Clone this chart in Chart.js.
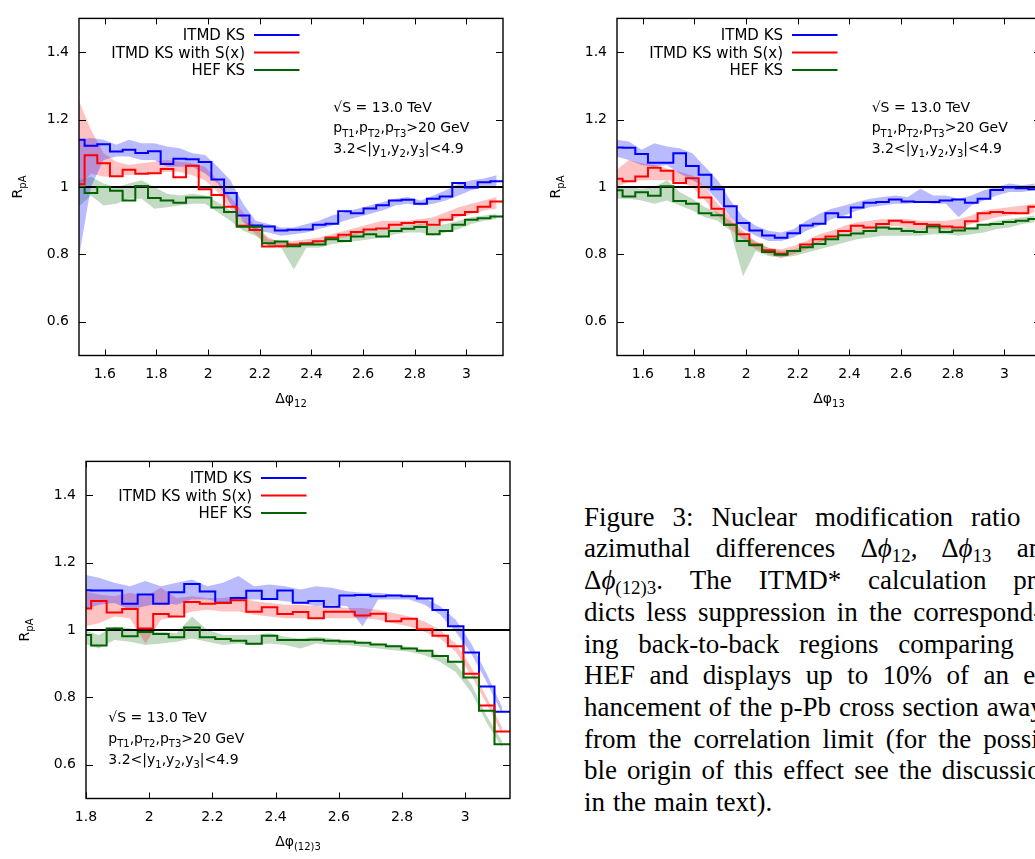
<!DOCTYPE html>
<html>
<head>
<meta charset="utf-8">
<script src="https://cdn.jsdelivr.net/npm/chart.js@4.4.1/dist/chart.umd.min.js"></script>
<style>
  html, body { margin: 0; padding: 0; background: #fff; }
  body { width: 1035px; height: 859px; overflow: hidden; position: relative; }
  canvas { position: absolute; }
  #caption {
    position: absolute; left: 584px; top: 501.7px;
    font-family: "Liberation Serif", serif; font-size: 27px; line-height: 31.7px;
    color: #000; white-space: nowrap;
  }
  #caption sub { font-size: 0.7em; vertical-align: -0.28em; line-height: 0; }
</style>
</head>
<body>
<canvas id="chart12" width="520" height="415" style="left:0px;top:0px"></canvas>
<canvas id="chart13" width="520" height="415" style="left:538px;top:0px"></canvas>
<canvas id="chart123" width="520" height="415" style="left:7px;top:443px"></canvas>
<div id="caption"></div>
<script>
// ===== data (bins of width pi/64) =====
const BIN = Math.PI / 64;
const FIRST_BIN_12 = 30;   // panels dphi12 / dphi13 start at bin 30
const FIRST_BIN_3 = 36;    // panel dphi(12)3 starts at bin 36

const xTicks12 = [1.6, 1.8, 2, 2.2, 2.4, 2.6, 2.8, 3];
const xTicks3 = [1.8, 2, 2.2, 2.4, 2.6, 2.8, 3];
const yTicks = [0.6, 0.8, 1, 1.2, 1.4];

const legendLabels = ['ITMD KS', 'ITMD KS with S(x)', 'HEF KS'];

// --- dphi12 ---
const itmd12 = [1.14,1.122,1.127,1.105,1.11,1.101,1.106,1.068,1.084,1.082,1.074,1.022,0.982,0.915,0.886,0.883,0.871,0.873,0.874,0.888,0.891,0.928,0.922,0.936,0.946,0.96,0.962,0.95,0.965,0.972,1.012,0.998,1.014,1.017];
const itmd12Hi = [1.14,1.145,1.14,1.125,1.14,1.13,1.13,1.12,1.115,1.1,1.095,1.06,1.02,0.95,0.9,0.89,0.88,0.88,0.89,0.9,0.915,0.925,0.935,0.945,0.955,0.965,0.97,0.96,0.975,0.99,1.01,1.02,1.025,1.035];
const itmd12Lo = [0.78,1.0,1.08,1.09,1.09,1.08,1.08,1.06,1.06,1.06,1.04,1.01,0.95,0.9,0.87,0.865,0.855,0.86,0.865,0.875,0.885,0.9,0.91,0.92,0.93,0.945,0.95,0.945,0.95,0.96,0.975,0.99,1.0,1.0];
const sx12 = [1.008,1.094,1.07,1.032,1.051,1.039,1.041,1.053,1.029,1.063,0.993,0.976,0.941,0.885,0.872,0.823,0.824,0.829,0.833,0.839,0.85,0.858,0.866,0.874,0.877,0.888,0.893,0.896,0.888,0.903,0.917,0.926,0.941,0.957];
const sx12Hi = [1.26,1.17,1.1,1.075,1.065,1.07,1.075,1.08,1.075,1.07,1.06,1.02,0.97,0.925,0.885,0.85,0.835,0.84,0.845,0.85,0.86,0.87,0.88,0.89,0.9,0.9,0.9,0.905,0.91,0.925,0.94,0.95,0.96,0.97];
const sx12Lo = [1.0,1.04,1.03,1.035,1.035,1.04,1.04,1.045,1.045,1.035,1.02,0.985,0.935,0.895,0.86,0.825,0.82,0.825,0.83,0.835,0.845,0.85,0.86,0.87,0.875,0.88,0.885,0.885,0.89,0.9,0.91,0.92,0.93,0.935];
const hef12 = [1.0,0.982,1.0,0.989,0.96,1.003,0.967,0.96,0.953,0.969,0.969,0.939,0.926,0.882,0.882,0.833,0.838,0.824,0.829,0.829,0.845,0.84,0.853,0.86,0.853,0.869,0.876,0.881,0.86,0.869,0.888,0.903,0.907,0.912];
const hef12Hi = [1.02,1.03,1.01,1.0,1.01,1.02,1.0,0.98,0.975,0.98,0.975,0.955,0.93,0.9,0.88,0.845,0.84,0.83,0.835,0.84,0.85,0.855,0.865,0.87,0.875,0.88,0.885,0.89,0.885,0.89,0.9,0.91,0.915,0.92];
const hef12Lo = [0.94,0.975,0.945,0.95,0.965,0.965,0.935,0.94,0.945,0.95,0.95,0.925,0.9,0.87,0.855,0.825,0.82,0.755,0.82,0.82,0.83,0.835,0.84,0.845,0.85,0.86,0.865,0.865,0.855,0.865,0.875,0.89,0.9,0.905];

// --- dphi13 ---
const itmd13 = [1.117,1.116,1.098,1.072,1.072,1.1,1.062,1.036,0.993,0.943,0.893,0.871,0.856,0.849,0.863,0.886,0.891,0.922,0.91,0.939,0.953,0.955,0.963,0.957,0.955,0.955,0.96,0.963,0.953,0.965,0.991,0.998,0.996,0.993];
const itmd13Hi = [1.14,1.135,1.11,1.13,1.12,1.115,1.1,1.06,1.02,0.96,0.91,0.885,0.87,0.865,0.875,0.9,0.92,0.935,0.945,0.955,0.965,0.97,0.975,0.97,0.995,0.975,0.975,0.965,0.975,0.99,1.0,1.01,1.005,1.01];
const itmd13Lo = [1.09,1.08,1.065,1.06,1.065,1.04,1.02,1.0,0.96,0.91,0.875,0.855,0.84,0.84,0.85,0.87,0.885,0.905,0.915,0.93,0.94,0.945,0.95,0.95,0.955,0.95,0.95,0.91,0.945,0.96,0.975,0.985,0.985,0.99];
const sx13 = [1.024,1.017,1.031,1.057,1.048,1.012,1.026,0.969,0.935,0.888,0.86,0.829,0.812,0.802,0.81,0.829,0.845,0.853,0.869,0.885,0.88,0.89,0.9,0.895,0.89,0.888,0.883,0.88,0.898,0.922,0.926,0.923,0.922,0.941];
const sx13Hi = [1.05,1.08,1.07,1.065,1.055,1.045,1.035,1.0,0.95,0.91,0.87,0.835,0.82,0.815,0.825,0.84,0.86,0.87,0.885,0.895,0.9,0.905,0.905,0.905,0.9,0.9,0.9,0.905,0.915,0.93,0.935,0.94,0.945,0.95];
const sx13Lo = [1.0,1.015,1.02,1.02,1.02,1.015,1.0,0.96,0.915,0.875,0.845,0.815,0.8,0.79,0.8,0.815,0.835,0.85,0.86,0.87,0.875,0.88,0.885,0.88,0.875,0.875,0.875,0.88,0.89,0.9,0.91,0.915,0.92,0.925];
const hef13 = [0.99,0.972,0.984,0.974,1.002,0.958,0.95,0.922,0.916,0.888,0.84,0.827,0.807,0.799,0.81,0.821,0.831,0.845,0.857,0.862,0.869,0.88,0.876,0.869,0.866,0.883,0.866,0.871,0.877,0.888,0.89,0.896,0.9,0.905];
const hef13Hi = [1.0,1.0,0.995,1.0,1.02,0.985,0.965,0.94,0.925,0.9,0.86,0.84,0.82,0.81,0.815,0.825,0.84,0.85,0.86,0.87,0.875,0.88,0.88,0.88,0.875,0.88,0.88,0.88,0.88,0.89,0.9,0.905,0.91,0.915];
const hef13Lo = [0.965,0.965,0.96,0.95,0.96,0.945,0.93,0.91,0.9,0.87,0.735,0.81,0.795,0.79,0.795,0.805,0.815,0.825,0.835,0.845,0.85,0.855,0.855,0.855,0.855,0.86,0.86,0.855,0.86,0.865,0.875,0.88,0.89,0.895];

// --- dphi(12)3 ---
const itmd3 = [1.118,1.117,1.117,1.078,1.105,1.078,1.112,1.136,1.114,1.081,1.095,1.116,1.092,1.117,1.081,1.086,1.069,1.102,1.104,1.1,1.102,1.1,1.093,1.059,1.011,0.933,0.832,0.757];
const itmd3Hi = [1.165,1.155,1.14,1.13,1.145,1.13,1.14,1.15,1.13,1.14,1.16,1.13,1.135,1.13,1.12,1.13,1.125,1.115,1.11,1.11,1.105,1.105,1.095,1.07,1.03,0.96,0.87,0.77];
const itmd3Lo = [1.06,1.075,1.08,1.06,1.07,1.08,1.075,1.09,1.09,1.08,1.09,1.09,1.09,1.085,1.08,1.07,1.075,1.07,1.01,1.09,1.09,1.09,1.075,1.045,0.995,0.93,0.845,0.75];
const sx3 = [1.064,1.086,1.052,1.062,1.004,1.047,1.04,1.083,1.078,1.08,1.088,1.054,1.067,1.047,1.053,1.035,1.054,1.054,1.043,1.048,1.026,1.033,1.002,0.983,0.952,0.87,0.776,0.699];
const sx3Hi = [1.115,1.105,1.1,1.11,1.1,1.125,1.095,1.1,1.095,1.095,1.1,1.085,1.08,1.075,1.075,1.07,1.07,1.065,1.065,1.06,1.05,1.04,1.025,1.0,0.96,0.89,0.8,0.71];
const sx3Lo = [1.01,1.02,1.04,1.035,0.96,1.03,1.04,1.055,1.06,1.055,1.055,1.045,1.04,1.035,1.035,1.035,1.035,1.035,1.035,1.03,1.02,1.01,0.995,0.975,0.935,0.865,0.78,0.69];
const hef3 = [0.985,0.954,1.004,0.981,0.994,0.988,0.978,1.007,0.978,0.973,0.968,0.959,0.983,0.97,0.97,0.971,0.968,0.966,0.962,0.957,0.952,0.945,0.938,0.923,0.906,0.859,0.76,0.661];
const hef3Hi = [1.0,0.985,1.01,1.005,0.995,0.995,0.99,1.04,1.0,0.985,0.985,0.985,0.99,0.98,0.975,0.98,0.975,0.97,0.965,0.96,0.955,0.95,0.94,0.925,0.9,0.84,0.745,0.67];
const hef3Lo = [0.96,0.945,0.97,0.965,0.955,0.96,0.965,0.975,0.965,0.955,0.96,0.955,0.96,0.955,0.945,0.96,0.955,0.955,0.95,0.945,0.94,0.935,0.925,0.905,0.875,0.815,0.725,0.65];

// ===== styling =====
const COLORS = {
    itmd: '#0000ff',
    sx: '#ff0000',
    hef: '#006400',
    itmdBand: 'rgba(0, 0, 255, 0.27)',
    sxBand: 'rgba(255, 0, 0, 0.24)',
    hefBand: 'rgba(0, 100, 0, 0.24)'
};
const FONT = '"DejaVu Sans"';
Chart.defaults.font.family = FONT;
Chart.defaults.color = '#000';

const noteLines = [
    [['√S = 13.0 TeV', 0]],
    [['p', 0], ['T1', 1], [',p', 0], ['T2', 1], [',p', 0], ['T3', 1], ['>20 GeV', 0]],
    [['3.2<|y', 0], ['1', 1], [',y', 0], ['2', 1], [',y', 0], ['3', 1], ['|<4.9', 0]]
];

function binEdges(firstBin) {
    const e = [];
    for (let k = firstBin; k <= 64; k++) e.push(k * BIN);
    return e;
}

function stepPoints(edges, vals) {
    const pts = vals.map((v, i) => ({ x: edges[i], y: v }));
    pts.push({ x: edges[vals.length], y: vals[vals.length - 1] });
    return pts;
}

function bandPoints(edges, vals) {
    return vals.map((v, i) => ({ x: (edges[i] + edges[i + 1]) / 2, y: v }));
}

function drawRich(ctx, parts, x, y, size, align) {
    const big = size + 'px ' + FONT;
    const small = Math.round(size * 0.72) + 'px ' + FONT;
    let w = 0;
    parts.forEach(([t, s]) => { ctx.font = s ? small : big; w += ctx.measureText(t).width; });
    let cx = align === 'center' ? x - w / 2 : (align === 'right' ? x - w : x);
    ctx.textAlign = 'left';
    ctx.textBaseline = 'alphabetic';
    parts.forEach(([t, s]) => {
        ctx.font = s ? small : big;
        ctx.fillText(t, cx, y + (s ? size * 0.3 : 0));
        cx += ctx.measureText(t).width;
    });
}

// frame, inward mirrored ticks, legend, labels
function makeDecor(cfg) {
    return {
        id: 'decor',
        afterDatasetsDraw(chart) {
            const ctx = chart.ctx;
            const a = chart.chartArea;
            const xs = chart.scales.x, ys = chart.scales.y;
            ctx.save();
            ctx.strokeStyle = '#000';
            ctx.lineWidth = 1.4;
            ctx.strokeRect(a.left, a.top, a.right - a.left, a.bottom - a.top);
            ctx.lineWidth = 1;
            ctx.beginPath();
            xs.ticks.forEach(t => {
                const px = Math.round(xs.getPixelForValue(t.value)) + 0.5;
                ctx.moveTo(px, a.bottom); ctx.lineTo(px, a.bottom - 6);
                ctx.moveTo(px, a.top); ctx.lineTo(px, a.top + 6);
            });
            ys.ticks.forEach(t => {
                const py = Math.round(ys.getPixelForValue(t.value)) + 0.5;
                ctx.moveTo(a.left, py); ctx.lineTo(a.left + 7, py);
                ctx.moveTo(a.right, py); ctx.lineTo(a.right - 7, py);
            });
            ctx.stroke();
            ctx.restore();
        },
        afterDraw(chart) {
            const ctx = chart.ctx;
            const a = chart.chartArea;
            ctx.save();
            ctx.fillStyle = '#000';
            // legend
            const lineColors = [COLORS.itmd, COLORS.sx, COLORS.hef];
            legendLabels.forEach((lab, i) => {
                const base = a.top + 21.7 + i * 17.5;
                ctx.font = '15px ' + FONT;
                ctx.textAlign = 'right';
                ctx.textBaseline = 'alphabetic';
                ctx.fillText(lab, a.left + 166, base);
                ctx.strokeStyle = lineColors[i];
                ctx.lineWidth = 2;
                ctx.beginPath();
                ctx.moveTo(a.left + 175, base - 5);
                ctx.lineTo(a.left + 220.5, base - 5);
                ctx.stroke();
            });
            // note
            noteLines.forEach((parts, i) => {
                drawRich(ctx, parts, a.left + cfg.noteX, a.top + cfg.noteY + i * 20.7, 14, 'left');
            });
            // axis titles
            drawRich(ctx, cfg.xTitle, (a.left + a.right) / 2, a.bottom + 47, 14, 'center');
            ctx.save();
            ctx.translate(a.left - 57, (a.top + a.bottom) / 2);
            ctx.rotate(-Math.PI / 2);
            drawRich(ctx, [['R', 0], ['pA', 1]], 0, 0, 14, 'center');
            ctx.restore();
            ctx.restore();
        }
    };
}

function buildPanel(canvasId, firstBin, xMin, xTicks, series, cfg) {
    const edges = binEdges(firstBin);
    const datasets = [];
    series.forEach(s => {
        datasets.push({
            data: bandPoints(edges, s.lo), borderWidth: 0, borderColor: 'rgba(0,0,0,0)',
            fill: false, order: 10, tension: 0
        });
        datasets.push({
            data: bandPoints(edges, s.hi), borderWidth: 0, borderColor: 'rgba(0,0,0,0)',
            backgroundColor: s.band, fill: '-1', order: 10, tension: 0
        });
    });
    datasets.push({
        data: [{ x: xMin, y: 1 }, { x: Math.PI, y: 1 }],
        borderColor: '#000', borderWidth: 2, fill: false, order: 5
    });
    series.forEach((s, i) => {
        datasets.push({
            data: stepPoints(edges, s.vals), borderColor: s.color, borderWidth: 2,
            stepped: true, fill: false, order: 3 - i
        });
    });

    return new Chart(document.getElementById(canvasId), {
        type: 'line',
        data: { datasets },
        options: {
            responsive: false,
            animation: false,
            events: [],
            layout: { padding: { top: 6, right: 17, left: 0, bottom: 0 } },
            elements: { point: { radius: 0 }, line: { borderJoinStyle: 'miter' } },
            plugins: { legend: { display: false }, tooltip: { enabled: false } },
            scales: {
                x: {
                    type: 'linear',
                    min: xMin,
                    max: Math.PI,
                    grid: { display: false, drawTicks: false },
                    border: { display: false },
                    ticks: {
                        font: { size: 14 }, color: '#000', padding: 10,
                        maxRotation: 0, autoSkip: false,
                        callback: v => String(v)
                    },
                    afterBuildTicks: s => { s.ticks = xTicks.map(v => ({ value: v })); },
                    afterFit: s => { s.height = 59.5; }
                },
                y: {
                    type: 'linear',
                    min: 0.5,
                    max: 1.5,
                    grid: { display: false, drawTicks: false },
                    border: { display: false },
                    ticks: {
                        font: { size: 14 }, color: '#000', padding: 10,
                        callback: v => String(v)
                    },
                    afterBuildTicks: s => { s.ticks = yTicks.map(v => ({ value: v })); },
                    afterFit: s => { s.width = 79; }
                }
            }
        },
        plugins: [makeDecor(cfg)]
    });
}

buildPanel('chart12', FIRST_BIN_12, 1.5, xTicks12, [
    { vals: itmd12, hi: itmd12Hi, lo: itmd12Lo, color: COLORS.itmd, band: COLORS.itmdBand },
    { vals: sx12, hi: sx12Hi, lo: sx12Lo, color: COLORS.sx, band: COLORS.sxBand },
    { vals: hef12, hi: hef12Hi, lo: hef12Lo, color: COLORS.hef, band: COLORS.hefBand }
], { noteX: 254.3, noteY: 93.3, xTitle: [['Δφ', 0], ['12', 1]] });

buildPanel('chart13', FIRST_BIN_12, 1.5, xTicks12, [
    { vals: itmd13, hi: itmd13Hi, lo: itmd13Lo, color: COLORS.itmd, band: COLORS.itmdBand },
    { vals: sx13, hi: sx13Hi, lo: sx13Lo, color: COLORS.sx, band: COLORS.sxBand },
    { vals: hef13, hi: hef13Hi, lo: hef13Lo, color: COLORS.hef, band: COLORS.hefBand }
], { noteX: 254.7, noteY: 93.3, xTitle: [['Δφ', 0], ['13', 1]] });

buildPanel('chart123', FIRST_BIN_3, 1.8, xTicks3, [
    { vals: itmd3, hi: itmd3Hi, lo: itmd3Lo, color: COLORS.itmd, band: COLORS.itmdBand },
    { vals: sx3, hi: sx3Hi, lo: sx3Lo, color: COLORS.sx, band: COLORS.sxBand },
    { vals: hef3, hi: hef3Hi, lo: hef3Lo, color: COLORS.hef, band: COLORS.hefBand }
], { noteX: 22.3, noteY: 261, xTitle: [['Δφ', 0], ['(12)3', 1]] });

// ===== caption (justified lines, clipped at the right edge like the page) =====
const captionLines = [
    'Figure 3: Nuclear modification ratio',
    'azimuthal differences Δ<i>ϕ</i><sub>12</sub>, Δ<i>ϕ</i><sub>13</sub> and',
    'Δ<i>ϕ</i><sub>(12)3</sub>. The ITMD* calculation pre-',
    'dicts less suppression in the correspond-',
    'ing back-to-back regions comparing',
    'HEF and displays up to 10% of an en-',
    'hancement of the p-Pb cross section away',
    'from the correlation limit (for the possi-',
    'ble origin of this effect see the discussion',
    'in the main text).'
];
const captionLastWordX = [971, 1016.7, 1013.3, 913.3, 898.3, 1023.3, 986.7, 983.3, 941.7, 716];

const cap = document.getElementById('caption');
captionLines.forEach((html, i) => {
    const div = document.createElement('div');
    const cut = html.lastIndexOf(' ');
    div.innerHTML = html.slice(0, cut + 1) + '<span class="lw">' + html.slice(cut + 1) + '</span>';
    cap.appendChild(div);
    const target = captionLastWordX[i];
    const natural = div.querySelector('.lw').getBoundingClientRect().left;
    const spaces = (html.match(/ /g) || []).length;
    div.style.wordSpacing = ((target - natural) / spaces) + 'px';
});
</script>
</body>
</html>
